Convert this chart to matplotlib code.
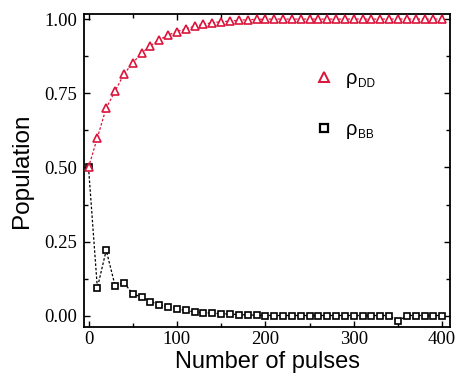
import matplotlib
matplotlib.use("Agg")
import matplotlib.pyplot as plt
from matplotlib.lines import Line2D
from matplotlib.ticker import MultipleLocator

# data (one point every 10 pulses)
pulses = list(range(0, 401, 10))
rho_dd = [0.50, 0.60, 0.70, 0.757, 0.814, 0.852, 0.885, 0.91, 0.93, 0.946,
          0.958, 0.967, 0.976, 0.982, 0.988, 0.991, 0.993, 0.996, 0.998, 0.999] + [1.0] * 21
rho_bb = [0.50, 0.094, 0.221, 0.102, 0.112, 0.074, 0.063, 0.048, 0.038, 0.030,
          0.024, 0.018, 0.013, 0.011, 0.009, 0.007, 0.006, 0.004, 0.003, 0.002] + \
         [0.001] * 15 + [-0.019] + [0.001] * 5
x_ticks = [0, 100, 200, 300, 400]
y_ticks = [0.0, 0.25, 0.5, 0.75, 1.0]
labels = ["ρ", "ρ"]
subs = ["DD", "BB"]

red = "#dc143c"

fig = plt.figure(figsize=(4.57, 3.79), dpi=100)
fig.subplots_adjust(left=0.184, right=0.985, bottom=0.137, top=0.963)
ax = fig.add_subplot(111)

ax.plot(pulses, rho_dd, ls=(0, (2, 1.5)), lw=0.9, color=red,
        marker="^", ms=5.2, mfc="white", mec=red, mew=1.2, zorder=3)
ax.plot(pulses, rho_bb, ls=(0, (2, 1.5)), lw=0.9, color="black",
        marker="s", ms=3.8, mfc="white", mec="black", mew=1.2, zorder=2)

ax.set_xlim(-5, 409)
ax.set_ylim(-0.038, 1.017)
ax.set_xticks(x_ticks)
ax.set_yticks(y_ticks)
ax.xaxis.set_minor_locator(MultipleLocator(50))
ax.yaxis.set_minor_locator(MultipleLocator(0.125))
ax.set_yticklabels([f"{v:.2f}" for v in y_ticks])
ax.tick_params(which="both", direction="in", top=True, right=True, width=1.0)
ax.tick_params(which="major", length=4.5, labelsize=13.5)
ax.tick_params(axis="x", which="major", pad=3)
ax.tick_params(axis="y", which="major", pad=5)
ax.tick_params(which="minor", length=3)
for lab in ax.get_xticklabels() + ax.get_yticklabels():
    lab.set_fontfamily("Liberation Serif")
for sp in ax.spines.values():
    sp.set_linewidth(1.3)

ax.set_xlabel("Number of pulses", fontsize=17, family="Liberation Sans", labelpad=2)
ax.set_ylabel("Population", fontsize=17.5, family="Liberation Sans", labelpad=8)

handles = [Line2D([], [], ls="none", marker="^", ms=7.3, mfc="white", mec=red, mew=1.4),
           Line2D([], [], ls="none", marker="s", ms=5.6, mfc="white", mec="black", mew=1.6)]
leg = ax.legend(handles, labels, frameon=False, loc="upper left",
                bbox_to_anchor=(0.627, 0.825), borderpad=0, borderaxespad=0,
                handlelength=1.0, handletextpad=0.6, labelspacing=1.6,
                prop={"family": "Liberation Sans", "size": 14.5})

# subscripts next to each rho
fig.canvas.draw()
inv = fig.transFigure.inverted()
for txt, sub in zip(leg.get_texts(), subs):
    bb = txt.get_window_extent()
    x, y = inv.transform((bb.x1 + 1, bb.y0 + 1))
    fig.text(x, y, sub, ha="left", va="baseline", fontsize=8.5, family="Liberation Sans")

fig.savefig("out.png", dpi=100)
